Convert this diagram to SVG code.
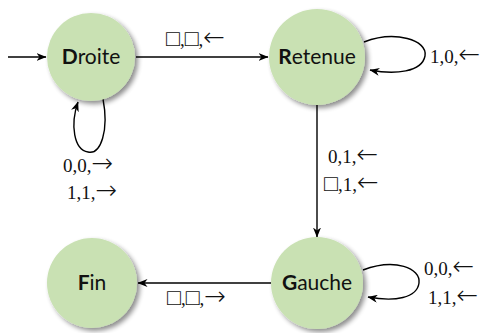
<svg xmlns="http://www.w3.org/2000/svg" width="484" height="333" viewBox="0 0 484 333">
<defs>
<filter id="sh" x="-30%" y="-30%" width="160%" height="160%">
<feGaussianBlur in="SourceAlpha" stdDeviation="2.5"/>
<feOffset dx="3" dy="3" result="b"/>
<feComponentTransfer><feFuncA type="linear" slope="0.45"/></feComponentTransfer>
<feMerge><feMergeNode/><feMergeNode in="SourceGraphic"/></feMerge>
</filter>
<marker id="ar" viewBox="0 0 10 8" refX="9.5" refY="4" markerWidth="10" markerHeight="8" markerUnits="userSpaceOnUse" orient="auto">
<path d="M0,0 L10,4 L0,8 L3,4 z" fill="#000"/>
</marker>
</defs>
<style>
.st{fill:#c9e1b3;stroke:none;filter:url(#sh)}
.nl{font-family:Lato,"DejaVu Sans",sans-serif;font-size:21px;fill:#111;text-anchor:middle}
.b{font-weight:bold}
.e{fill:none;stroke:#000;stroke-width:1.4;marker-end:url(#ar)}
.lb{font-family:"Liberation Serif","DejaVu Serif",serif;font-size:19px;fill:#111}
.sq{font-family:"DejaVu Sans",sans-serif;font-size:23px;font-weight:200}
.ar{font-family:"DejaVu Sans",sans-serif;font-size:26px;font-weight:200}
</style>
<g id="connectors">
<path class="e" d="M8 57 L46 57"/>
<path class="e" d="M136 57 L268 57"/>
<path class="e" d="M364 42 C395 30 428 40 425 56 C422 72 395 75 370 70"/>
<path class="e" d="M103 99 C109 130 101 155 88 152 C74 150 70 125 78 102"/>
<path class="e" d="M317 105 L317 237"/>
<path class="e" d="M363 270 C395 258 421 268 419 283 C417 298 395 302 368 297"/>
<path class="e" d="M271 283 L138 283"/>
<text class="lb" x="166" y="46"><tspan class="sq">□</tspan>,<tspan class="sq">□</tspan>,<tspan class="ar">←</tspan></text>
<text class="lb" x="430" y="63">1,0,<tspan class="ar">←</tspan></text>
<text class="lb" x="63" y="172">0,0,<tspan class="ar">→</tspan></text>
<text class="lb" x="67" y="199">1,1,<tspan class="ar">→</tspan></text>
<text class="lb" x="328" y="163">0,1,<tspan class="ar">←</tspan></text>
<text class="lb" x="324" y="191"><tspan class="sq">□</tspan>,1,<tspan class="ar">←</tspan></text>
<text class="lb" x="424" y="275">0,0,<tspan class="ar">←</tspan></text>
<text class="lb" x="428" y="304">1,1,<tspan class="ar">←</tspan></text>
<text class="lb" x="167" y="305"><tspan class="sq">□</tspan>,<tspan class="sq">□</tspan>,<tspan class="ar">→</tspan></text>
</g>
<g id="droite">
<circle class="st" cx="91" cy="57" r="44"/>
<text class="nl" x="91" y="64"><tspan class="b">D</tspan>roite</text>
</g>
<g id="retenue">
<circle class="st" cx="317" cy="57" r="48"/>
<text class="nl" x="317" y="64"><tspan class="b">R</tspan>etenue</text>
</g>
<g id="gauche">
<circle class="st" cx="317" cy="283" r="46"/>
<text class="nl" x="317" y="290"><tspan class="b">G</tspan>auche</text>
</g>
<g id="fin">
<circle class="st" cx="92" cy="283" r="45"/>
<text class="nl" x="92" y="290"><tspan class="b">F</tspan>in</text>
</g>
</svg>
